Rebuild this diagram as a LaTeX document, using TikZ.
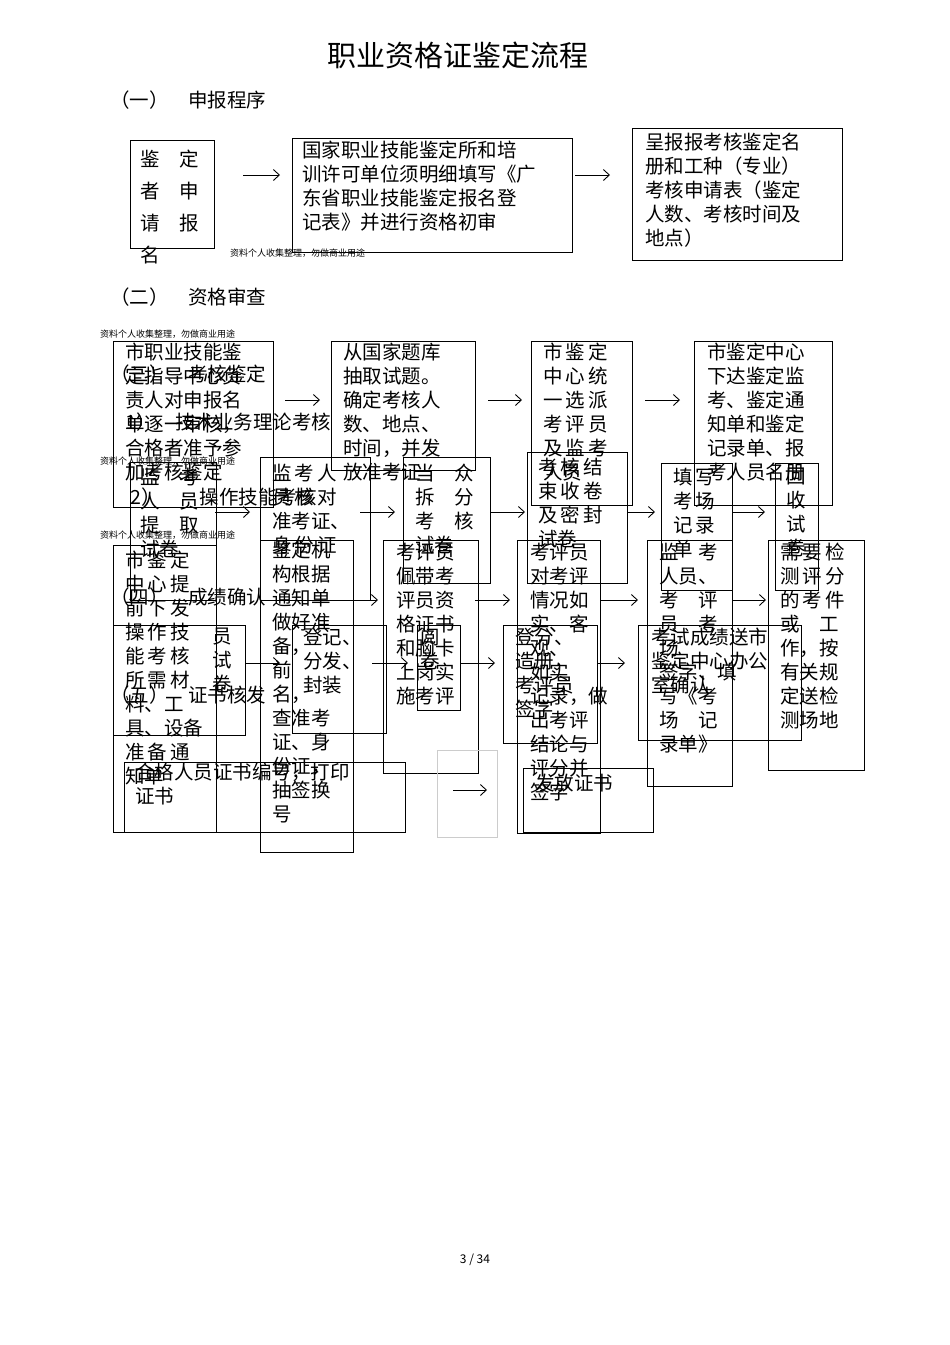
\documentclass[tikz,border=0pt]{standalone}
\usepackage{fontspec}
\setmainfont{Noto Sans CJK SC}
\usetikzlibrary{arrows.meta}
\newcommand{\bxx}[5]{\node[bx,minimum width={(#4-#2)*1pt},minimum height={(#5-#3)*1pt}] (#1) at (#2,#3) {};}
\newcommand{\arr}[4]{\coordinate (#1s) at (#2,#4); \coordinate (#1e) at (#3,#4); \draw[ar] (#1s) -- (#1e);}
\begin{document}
\begin{tikzpicture}[x=1pt,y=-1pt,
 bx/.style={draw,line width=1.1pt,anchor=north west,inner sep=0pt},
 tx/.style={anchor=north west,inner sep=0pt,align=left,font=\fontsize{19.5pt}{24pt}\selectfont},
 sm/.style={anchor=north west,inner sep=0pt,font=\fontsize{9pt}{10pt}\selectfont},
 ar/.style={line width=0.9pt,-{Straight Barb[length=6pt,width=11pt]}}]
\useasboundingbox[fill=white] (0,0) rectangle (950,1345);
\node[font=\fontsize{29pt}{32pt}\selectfont] (title) at (458,55) {职业资格证鉴定流程};
\node[tx] (h1) at (110,91) {（一）\quad 申报程序};
% row 1
\bxx{A}{130}{140}{214}{248}
\node[tx,font=\fontsize{19.5pt}{32pt}\selectfont] (tA) at (140,150) {鉴\quad 定\\者\quad 申\\请\quad 报\\名};
\arr{a1}{243}{280}{175}
\bxx{B}{292}{138}{572}{252}
\node[tx] (tB) at (302,141) {国家职业技能鉴定所和培\\训许可单位须明细填写《广\\东省职业技能鉴定报名登\\记表》并进行资格初审};
\arr{a2}{575}{610}{175}
\bxx{C}{632}{128}{842}{260}
\node[tx] (tC) at (645,133) {呈报报考核鉴定名\\册和工种（专业）\\考核申请表（鉴定\\人数、考核时间及\\地点）};
\node[sm] (w1) at (230,249) {资料个人收集整理，勿做商业用途};
\node[tx] (h2) at (110,288) {（二）\quad 资格审查};
\node[sm] (w2) at (100,330) {资料个人收集整理，勿做商业用途};
% row 2
\bxx{D}{113}{341}{273}{507}
\node[tx] (tD) at (125,343) {市职业技能鉴\\定指导中心负\\责人对申报名\\单逐一审核，\\合格者准予参\\加考核鉴定};
\node[tx] (h3) at (110,365) {（三）\quad 考核鉴定};
\node[tx] (h31) at (125,413) {1）\quad 技术业务理论考核};
\arr{b1}{285}{320}{400}
\bxx{E}{331}{341}{475}{470}
\node[tx] (tE) at (343,343) {从国家题库\\抽取试题。\\确定考核人\\数、地点、\\时间，并发\\放准考证};
\arr{b2}{488}{522}{400}
\bxx{F}{531}{341}{632}{505}
\node[tx] (tF) at (543,343) {市\,鉴\,定\\中\,心\,统\\一\,选\,派\\考\,评\,员\\及\,监\,考\\人员};
\arr{b3}{645}{680}{400}
\bxx{G}{694}{341}{832}{505}
\node[tx] (tG) at (707,343) {市鉴定中心\\下达鉴定监\\考、鉴定通\\知单和鉴定\\记录单、报\\考人员名册};
\node[sm] (w3) at (100,457) {资料个人收集整理，勿做商业用途};
\node[sm] (w4) at (100,531) {资料个人收集整理，勿做商业用途};
% row 3
\bxx{H}{130}{462}{216}{600}
\node[tx] (tH) at (140,468) {监\quad 考\\人\quad 员\\提\quad 取\\试卷};
\node[tx] (h32) at (130,488) {2）\quad\quad 操作技能考核};
\arr{c1}{215}{250}{512}
\bxx{J}{260}{457}{370}{600}
\node[tx] (tJ) at (272,464) {监\,考\,人\\员\,核\,对\\准考证、\\身\,份\,证};
\arr{c2}{360}{395}{512}
\bxx{L}{403}{457}{490}{583}
\node[tx] (tL) at (415,464) {当\quad 众\\拆\quad 分\\考\quad 核\\试卷};
\arr{c3}{490}{525}{512}
\bxx{M}{527}{452}{627}{583}
\node[tx] (tM) at (538,458) {考\,核\,结\\束\,收\,卷\\及\,密\,封\\试卷};
\arr{c4}{627}{655}{512}
\bxx{N}{661}{463}{732}{590}
\node[tx] (tN) at (673,468) {填\,写\\考\,场\\记\,录\\单};
\arr{c5}{732}{765}{512}
\bxx{O}{775}{463}{818}{590}
\node[tx] (tO) at (786,468) {回\\收\\试\\卷};
% row 4
\bxx{I}{113}{545}{216}{832}
\node[tx] (tI) at (125,551) {市\,鉴\,定\\中\,心\,提\\前\,下\,发\\操\,作\,技\\能\,考\,核\\所\,需\,材\\料、工\\具、设备\\准\,备\,通\\知单};
\node[tx] (h4) at (110,588) {（四）\quad 成绩确认};
\bxx{P}{113}{625}{245}{735}
\node[tx] (tP) at (212,628) {员\\试\\卷};
\node[tx] (h5) at (110,686) {（五）\quad 证书核发};
\arr{d1}{245}{280}{663}
\bxx{K}{260}{540}{353}{852}
\node[tx] (tK) at (272,541) {鉴定机\\构根据\\通知单\\做好准\\备，\\前\\名，\\查准考\\证、身\\份证，\\抽签换\\号};
\arr{d2}{340}{378}{600}
\bxx{Q}{292}{625}{386}{733}
\node[tx] (tQ) at (303,628) {登记、\\分发、\\封装};
\arr{d3}{372}{408}{663}
\bxx{R}{383}{540}{478}{773}
\node[tx] (tR) at (396,543) {考评员\\佩带考\\评员资\\格证书\\和胸卡\\上岗实\\施考评};
\bxx{S}{417}{625}{460}{710}
\node[tx] (tS) at (420,628) {阅\\卷};
\arr{d4}{475}{510}{600}
\arr{d5}{460}{495}{663}
\bxx{T}{517}{540}{600}{833}
\node[tx] (tT) at (530,543) {考评员\\对考评\\情况如\\实、客\\观、\\如实\\记录，做\\出考评\\结论与\\评分并\\签字};
\bxx{U}{503}{625}{597}{743}
\node[tx] (tU) at (515,628) {登分、\\造册，\\考评员\\签字};
\arr{d6}{600}{638}{600}
\arr{d7}{597}{625}{663}
\bxx{V}{647}{540}{732}{786}
\node[tx] (tV) at (659,543) {监\quad 考\\人员、\\考\quad 评\\员\quad 考\\场\\签字、填\\写《考\\场\quad 记\\录单》};
\bxx{W}{638}{625}{801}{740}
\node[tx] (tW) at (651,628) {考试成绩送市\\鉴定中心办公\\室确认};
\arr{d8}{732}{766}{600}
\bxx{X}{768}{540}{864}{770}
\node[tx] (tX) at (780,543) {需\,要\,检\\测\,评\,分\\的\,考\,件\\或\quad 工\\作，按\\有关规\\定送检\\测场地};
\draw[gray!40] (437,750) rectangle (497,837);
\bxx{Y}{124}{762}{405}{832}
\node[tx] (tY) at (135,763) {合格人员证书编号，打印\\证书};
\arr{e1}{453}{487}{790}
\bxx{Z}{523}{768}{653}{832}
\node[tx] (tZ) at (535,774) {发放证书};
\node[font=\fontsize{12pt}{14pt}\selectfont] (pg) at (475,1260) {3 / 34};
\end{tikzpicture}
\end{document}
